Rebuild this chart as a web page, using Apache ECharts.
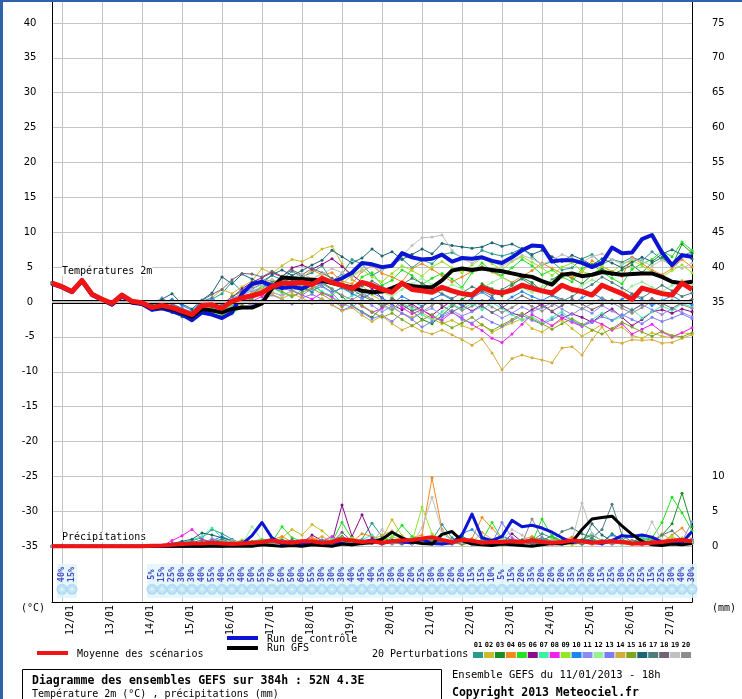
<!DOCTYPE html>
<html>
<head>
<meta charset="utf-8">
<script src="https://cdn.jsdelivr.net/npm/echarts@6/dist/echarts.min.js"></script>
<style>
html, body { margin: 0; padding: 0; background: #fff; }
#main { width: 742px; height: 699px; }
</style>
</head>
<body>
<div id="main"></div>
<script>
// GEFS run 11/01/2013 18h, one step = 6h, 65 steps (0h .. 384h)
var days = ['11/01', '12/01', '13/01', '14/01', '15/01', '16/01', '17/01', '18/01', '19/01',
    '20/01', '21/01', '22/01', '23/01', '24/01', '25/01', '26/01', '27/01'];
var runHours = ['00h', '06h', '12h', '18h'];
var steps = ['11/01 18h'];
days.slice(1).forEach(function (d) {
    runHours.forEach(function (h) { steps.push(d + ' ' + h); });
});

var tempTicks = [-35, -30, -25, -20, -15, -10, -5, 0, 5, 10, 15, 20, 25, 30, 35, 40];
var rightTicks = [0, 5, 10, 35, 40, 45, 50, 55, 60, 65, 70, 75];

// temperature 2m (°C)
var meanTemp = [2.7, 2.2, 1.5, 3.1, 1.1, 0.4, -0.2, 1.0, 0.1, -0.1, -0.8, -0.5, -0.8,
    -1.3, -1.8, -0.5, -0.4, -0.9, 0.1, 0.6, 0.9, 1.3, 2.2, 2.7, 2.7, 2.8,
    2.5, 3.4, 2.8, 2.4, 1.9, 2.8, 2.4, 1.8, 1.4, 2.7, 1.8, 1.6, 1.4,
    2.1, 1.6, 1.2, 1.0, 2.1, 1.5, 1.3, 1.7, 2.4, 2.0, 1.6, 1.3, 2.4,
    1.8, 1.5, 1.0, 2.4, 1.8, 1.2, 0.4, 2.0, 1.6, 1.2, 1.0, 2.7, 1.8];
var controlTemp = [2.6, 2.1, 1.4, 3.0, 1.0, 0.3, -0.4, 0.8, -0.1, -0.3, -1.1, -0.9, -1.3,
    -1.8, -2.6, -1.5, -1.8, -2.3, -1.5, 1.2, 2.6, 2.9, 2.3, 2.0, 2.2, 1.9,
    2.6, 3.0, 2.8, 3.4, 4.2, 5.6, 5.4, 5.0, 5.2, 7.0, 6.4, 6.1, 6.2,
    6.8, 5.8, 6.3, 6.2, 6.4, 5.9, 5.6, 6.4, 7.4, 8.1, 8.0, 5.8, 6.0,
    6.0, 5.6, 5.0, 5.6, 7.8, 7.0, 7.1, 9.0, 9.6, 7.1, 5.3, 6.7, 6.5];
var gfsTemp = [2.7, 2.2, 1.5, 3.1, 1.1, 0.4, -0.3, 1.0, 0.0, -0.2, -0.9, -0.7, -1.0,
    -1.5, -2.1, -1.0, -1.2, -1.5, -1.0, -0.8, -0.8, -0.2, 2.0, 3.5, 3.4, 3.3,
    3.2, 3.1, 2.7, 2.4, 2.1, 1.6, 1.4, 1.5, 2.0, 2.6, 2.3, 2.1, 2.1,
    3.1, 4.5, 4.8, 4.6, 4.8, 4.6, 4.4, 4.1, 3.8, 3.6, 3.0, 2.5, 3.9,
    4.1, 3.7, 3.9, 4.3, 4.1, 3.9, 4.0, 4.1, 4.1, 3.6, 2.9, 2.7, 2.9];

var pertTemp = [
    [2.8, 2.3, 1.6, 3.2, 1.2, 0.5, -0.1, 1.1, 0.2, 0.0,
     -0.6, 0.2, -0.3, -0.9, -1.5, -0.2, 0.4, 1.2, 2.9, 1.5,
     2.4, 3.0, 3.8, 3.2, 4.4, 3.6, 4.2, 5.2, 3.0, 4.0,
     6.1, 5.4, 3.8, 4.6, 5.3, 6.2, 4.9, 6.0, 5.5, 6.8,
     7.1, 6.4, 6.2, 7.4, 6.9, 6.6, 7.0, 7.7, 6.5, 5.3,
     5.8, 4.6, 4.9, 6.2, 6.8, 5.4, 6.1, 5.7, 6.4, 5.9,
     7.2, 6.1, 5.2, 6.6, 7.2],
    [2.6, 2.1, 1.4, 3.0, 1.0, 0.3, -0.3, 0.9, 0.0, -0.2,
     -0.9, -0.7, -1.1, -1.6, -2.0, -0.3, 0.6, 1.8, 1.2, 2.2,
     3.0, 4.8, 4.1, 5.2, 6.1, 5.8, 6.5, 7.6, 8.0, 5.5,
     3.2, 2.4, 1.0, 0.2, -0.8, -1.6, -2.2, -1.5, -2.4, -3.1,
     -2.6, -3.4, -3.9, -3.2, -4.4, -3.6, -3.0, -2.4, -3.8, -4.3,
     -3.4, -2.6, -3.8, -4.9, -4.1, -3.2, -4.0, -3.6, -4.8, -5.2,
     -4.4, -4.9, -5.1, -4.4, -4.6],
    [2.7, 2.2, 1.5, 3.1, 1.1, 0.4, -0.2, 0.9, 0.0, -0.3,
     -1.2, -1.0, -1.5, -2.1, -2.6, -1.5, -1.8, -2.0, -0.8, 0.5,
     1.2, 2.1, 3.0, 2.6, 3.5, 2.1, 1.4, 2.8, 1.9, 0.8,
     -0.5, -1.4, -2.2, -0.8, 0.6, -0.4, -1.3, -2.5, -3.1, -1.9,
     -0.6, 0.4, 1.2, 2.6, 1.9, 0.9, 2.4, 3.5, 2.8, 1.6,
     3.2, 4.1, 3.4, 2.6, 3.9, 4.8, 3.9, 4.6, 5.3, 4.2,
     5.6, 6.4, 5.2, 8.3, 7.0],
    [2.8, 2.3, 1.6, 3.1, 1.2, 0.5, -0.1, 1.0, 0.2, 0.0,
     -0.5, -0.3, -0.6, -1.0, -1.4, -0.1, -0.2, -0.6, 0.8, 1.4,
     2.2, 2.8, 3.2, 2.7, 2.2, 3.4, 4.6, 3.9, 4.2, 3.0,
     2.6, 4.4, 5.2, 4.1, 3.6, 2.9, 4.8, 5.5, 4.7, 3.8,
     2.9, 3.6, 4.4, 5.1, 4.3, 3.6, 2.8, 3.7, 4.5, 5.6,
     4.8, 4.1, 3.5, 4.3, 5.9, 5.1, 4.4, 3.7, 6.4, 5.5,
     4.6, 3.9, 4.8, 6.1, 5.0],
    [2.6, 2.1, 1.4, 3.0, 1.0, 0.3, -0.3, 0.9, 0.0, -0.2,
     -1.0, -0.9, -1.2, -1.8, -2.3, -1.2, -1.5, -1.6, -0.3, 0.9,
     0.4, 1.6, 2.5, 3.1, 2.2, 1.7, 2.6, 1.4, 0.9, 2.3,
     1.5, 3.6, 4.2, 2.4, 3.1, 4.6, 3.8, 2.5, 3.4, 4.1,
     3.3, 2.1, 4.2, 5.6, 4.4, 3.8, 4.9, 6.1, 5.2, 3.9,
     4.6, 3.6, 2.9, 4.8, 5.4, 4.3, 3.4, 2.6, 4.7, 5.5,
     6.1, 7.3, 6.5, 8.6, 7.4],
    [2.7, 2.2, 1.5, 3.1, 1.1, 0.4, -0.2, 1.0, 0.1, -0.1,
     -0.7, -0.4, -0.7, -1.2, -1.7, -0.6, -0.3, -0.8, 0.6, 1.9,
     2.8, 3.5, 4.2, 3.6, 4.9, 5.3, 4.7, 5.4, 6.2, 5.1,
     3.9, 2.8, 1.9, 0.6, -0.4, -1.1, -0.3, -1.2, -1.9, -0.8,
     0.2, -0.5, -1.3, -0.4, 0.6, -0.7, -1.6, -2.0, -1.1, -0.3,
     -1.4, -2.3, -1.7, -2.2, -2.9, -1.8, -1.0, -2.2, -3.4, -2.5,
     -1.4, -1.1, -1.6, -1.0, -1.4],
    [2.7, 2.2, 1.5, 3.0, 1.1, 0.4, -0.2, 1.0, 0.1, -0.2,
     -0.9, -0.6, -1.0, -1.5, -2.0, -0.9, -0.8, -1.3, -0.5, 0.3,
     0.8, 1.4, 2.0, 1.3, 0.7, 1.8, 2.6, 1.5, 0.6, 0.1,
     0.9, 1.5, 0.3, -0.6, -1.2, -0.2, -0.9, -1.8, -2.6, -1.4,
     -0.3, -1.0, -0.2, -1.1, -0.1, -0.9, -1.8, -2.6, -2.1, -3.0,
     -2.2, -1.4, -2.6, -3.3, -2.5, -1.6, -2.7, -2.1, -1.0, -2.3,
     -1.4, -0.6, -1.2, -0.2, -0.7],
    [2.8, 2.2, 1.5, 3.1, 1.1, 0.4, -0.2, 1.0, 0.1, -0.1,
     -0.7, -0.5, -0.6, -1.3, -1.9, -0.7, -0.6, -1.0, 0.2, 0.5,
     0.1, 0.8, 1.4, 0.9, 1.6, 1.0, 0.4, 1.3, 0.7, -0.5,
     0.4, -0.6, -1.5, -0.9, 0.3, -0.8, -1.7, -1.1, -2.1, -2.6,
     -1.5, -2.3, -3.2, -4.1, -5.2, -5.8, -4.6, -3.2, -1.8, -2.6,
     -3.4, -2.3, -2.9, -3.5, -2.6, -3.2, -4.0, -3.1, -4.6, -3.9,
     -3.2, -4.3, -5.0, -4.4, -3.7],
    [2.6, 2.1, 1.4, 3.1, 1.0, 0.3, -0.3, 0.9, 0.0, -0.2,
     -1.1, -0.8, -1.3, -1.7, -2.2, -1.1, -1.2, -2.0, -0.9, 0.2,
     1.4, 2.3, 1.6, 2.9, 3.6, 2.8, 3.3, 4.1, 3.4, 2.6,
     3.8, 4.7, 3.6, 2.9, 4.1, 5.2, 4.5, 3.7, 5.0, 5.8,
     4.9, 4.2, 5.3, 6.3, 5.5, 4.6, 5.8, 6.5, 5.7, 4.9,
     3.8, 5.0, 5.6, 4.4, 3.9, 5.1, 4.3, 5.4, 6.0, 5.2,
     4.3, 3.6, 4.5, 5.3, 4.2],
    [2.7, 2.2, 1.5, 3.1, 1.1, 0.4, -0.2, 1.0, 0.1, -0.1,
     -0.6, -0.2, 0.4, -0.5, -1.2, 0.1, 0.6, -0.5, 0.4, 1.2,
     1.9, 2.6, 1.8, 2.4, 3.0, 2.2, 1.6, 2.3, 1.4, 2.0,
     1.2, 0.5, 1.3, 0.6, -0.3, 0.8, 0.1, -0.6, 0.4, 1.1,
     0.3, -0.4, 0.6, 1.4, 0.5, -0.2, 0.7, 1.5, 0.8, 0.2,
     1.0, 0.4, -0.3, 0.6, 1.3, 0.5, -0.2, 0.4, 1.1, 0.3,
     -0.5, 0.2, 0.9, 0.1, -0.4],
    [2.7, 2.2, 1.5, 3.1, 1.1, 0.4, -0.2, 1.0, 0.1, 0.0,
     -0.3, 0.6, -0.4, -0.9, -1.5, -0.4, 0.2, -0.3, 0.6, 1.0,
     1.6, 2.0, 2.7, 2.1, 1.5, 2.4, 3.0, 2.2, 1.3, -0.2,
     -0.8, 0.4, -0.5, -1.4, -0.6, -1.6, -2.4, -1.5, -0.9, -1.9,
     -1.2, -2.0, -1.4, -0.6, -1.5, -2.3, -1.6, -0.7, -1.4, -0.8,
     -0.1, -1.0, -1.8, -0.9, -1.6, -0.5, -1.3, -2.0, -1.2, -0.4,
     -1.1, -1.8, -0.9, -1.5, -2.1],
    [2.7, 2.2, 1.5, 3.1, 1.1, 0.4, -0.2, 1.0, 0.1, -0.1,
     -0.8, -0.6, -1.0, -1.5, -1.8, -0.8, -0.9, -1.4, -1.8, -0.6,
     0.9, 2.0, 1.5, 0.8, 1.6, 2.4, 1.8, 2.6, 3.2, 2.4,
     1.6, 2.9, 2.2, 1.4, 0.8, 1.8, 2.6, 3.4, 2.5, 1.7,
     2.5, 1.9, 1.2, 2.0, 2.8, 3.5, 2.7, 2.0, 1.4, 2.2,
     3.0, 2.3, 1.5, 2.4, 3.2, 2.6, 1.8, 1.1, 2.3, 2.9,
     2.1, 1.5, 2.4, 3.1, 2.5],
    [2.7, 2.2, 1.5, 3.1, 1.1, 0.4, -0.2, 1.0, 0.1, -0.1,
     -0.8, -0.4, -0.9, -1.4, -1.9, -0.7, -0.5, -1.0, -0.3, 0.1,
     -0.5, 0.3, 1.0, 0.4, -0.3, 0.6, 1.1, 0.4, -0.4, -1.2,
     -0.6, -1.5, -2.4, -1.9, -2.8, -1.6, -2.5, -3.6, -2.8, -2.2,
     -1.4, -2.5, -3.0, -2.1, -2.9, -3.5, -2.7, -1.9, -2.6, -3.2,
     -2.5, -1.8, -2.7, -3.4, -2.9, -2.1, -2.6, -1.8, -2.5, -3.1,
     -2.2, -2.8, -2.3, -1.7, -2.4],
    [2.7, 2.2, 1.5, 3.1, 1.1, 0.4, -0.2, 1.0, 0.1, -0.1,
     -0.8, -0.5, -0.9, -1.3, -1.9, -0.6, -0.6, -1.1, -0.2, 0.6,
     1.2, 1.8, 1.1, 0.5, 1.2, 0.6, -0.2, 0.5, -0.4, -1.3,
     -0.8, -1.9, -2.8, -2.0, -3.1, -4.0, -3.4, -4.2, -4.6, -4.0,
     -4.7, -5.4, -6.2, -5.3, -7.3, -9.7, -8.1, -7.6, -8.0, -8.3,
     -8.7, -6.6, -6.4, -7.6, -5.4, -3.6, -5.7, -5.9, -5.4, -5.5,
     -5.4, -5.9, -5.8, -5.2, -4.7],
    [2.6, 2.1, 1.4, 3.0, 1.0, 0.3, -0.3, 0.9, 0.0, -0.2,
     -1.0, -0.8, -1.2, -1.7, -2.4, -1.3, -1.6, -2.2, -1.5, -0.4,
     0.6, 1.3, 2.0, 1.5, 0.8, 1.4, 2.0, 1.1, 0.2, -0.7,
     0.2, -0.5, -1.4, -2.2, -1.6, -2.5, -3.4, -2.6, -1.8, -2.9,
     -3.7, -3.0, -2.2, -3.3, -4.1, -3.3, -2.5, -1.6, -2.4, -3.1,
     -3.9, -3.1, -2.4, -3.2, -4.0, -4.6, -3.8, -2.9, -3.6, -4.3,
     -4.9, -4.2, -4.8, -5.0, -4.4],
    [2.8, 2.3, 1.6, 3.2, 1.2, 0.5, -0.1, 1.1, 0.2, 0.1,
     -0.4, 0.4, 1.2, -0.3, -1.0, 0.3, 1.3, 3.6, 2.6, 4.0,
     3.3, 2.6, 3.9, 4.6, 3.8, 4.5, 5.3, 6.0, 7.4, 6.5,
     5.6, 6.3, 7.6, 6.6, 7.2, 6.1, 6.8, 7.6, 6.9, 8.4,
     8.1, 7.9, 7.7, 7.9, 8.5, 8.0, 8.3, 7.6, 6.8, 7.4,
     6.5, 5.8, 6.7, 6.1, 5.3, 6.2, 5.6, 4.9, 5.7, 6.4,
     5.8, 6.9, 7.5, 6.8, 6.2],
    [2.7, 2.2, 1.5, 3.1, 1.1, 0.4, -0.2, 1.0, 0.1, -0.1,
     -0.6, -0.3, -0.8, -1.4, -1.8, -0.5, -0.7, -0.4, 0.8, 1.6,
     2.4, 3.1, 2.6, 3.3, 2.7, 2.0, 2.8, 3.5, 2.9, 2.1,
     1.4, 2.3, 3.0, 2.2, 1.5, 2.5, 3.4, 2.7, 1.9, 1.2,
     0.5, 1.3, 2.2, 1.6, 0.9, 1.8, 2.6, 3.3, 2.4, 1.7,
     0.9, 0.1, 0.8, 1.7, 2.5, 3.6, 2.8, 2.0, 1.2, 0.6,
     1.5, 2.4, 1.6, 0.8, 1.3],
    [2.7, 2.2, 1.5, 3.1, 1.1, 0.4, -0.2, 1.0, 0.1, -0.1,
     -0.7, -0.4, -0.2, -1.0, -1.6, 0.2, 1.1, 1.8, 3.2, 4.1,
     4.0, 3.6, 4.4, 3.7, 4.6, 3.9, 4.8, 4.2, 3.4, 2.5,
     1.8, 0.9, 0.2, -0.6, 0.5, -0.4, -1.3, -0.7, 0.3, -0.5,
     -1.4, -0.7, 0.2, -0.6, -1.5, -0.8, 0.1, 0.9, 0.2, -0.6,
     -1.3, -0.5, 0.4, -0.3, -1.1, -0.4, 0.3, -0.5, -1.2, -0.3,
     0.5, -0.2, -0.9, -0.1, 0.4],
    [2.7, 2.2, 1.5, 3.1, 1.1, 0.4, -0.2, 1.0, 0.1, -0.1,
     -0.7, -0.5, -0.8, -1.2, -1.7, -0.4, -0.2, -0.7, 0.4, 1.1,
     1.8, 2.5, 3.2, 2.5, 3.4, 4.1, 3.3, 4.0, 4.8, 4.2,
     3.6, 4.5, 5.1, 4.6, 5.5, 6.6, 8.1, 9.2, 9.3, 9.6,
     7.4, 6.2, 5.6, 6.4, 5.8, 5.1, 5.9, 6.7, 6.2, 5.4,
     6.0, 6.8, 6.3, 5.7, 6.5, 6.9, 6.1, 5.4, 6.2, 5.8,
     5.2, 6.0, 5.5, 4.8, 5.6],
    [2.7, 2.2, 1.5, 3.1, 1.1, 0.4, -0.2, 1.0, 0.1, -0.1,
     -0.9, -0.7, -1.1, -1.6, -2.1, -1.0, -1.3, -1.5, -0.9, -0.2,
     0.5, 1.2, 1.8, 2.4, 1.7, 1.0, 1.9, 2.6, 1.8, 1.0,
     0.3, 1.2, 0.4, -0.3, -1.1, 0.2, -0.6, -1.4, -0.5, 0.3,
     -0.4, -1.2, -0.6, 0.2, -0.7, -1.5, -0.8, 0.1, -0.6, -1.3,
     -0.5, 0.4, -0.3, -1.0, -0.2, 0.6, -0.1, -0.9, -1.6, -0.8,
     0.1, -0.6, 0.3, -0.4, -0.9]
];

// precipitation (mm / 6h)
var meanPrecip = [0, 0, 0, 0, 0, 0, 0, 0, 0, 0, 0.05, 0.1, 0.2,
    0.3, 0.4, 0.4, 0.5, 0.4, 0.3, 0.4, 0.5, 0.6, 0.8, 0.6, 0.5, 0.7,
    0.7, 0.5, 0.6, 1.0, 0.8, 0.6, 0.7, 0.5, 0.7, 0.8, 0.9, 1.1, 1.3,
    0.9, 0.6, 0.9, 0.8, 0.5, 0.6, 0.6, 0.7, 0.6, 0.8, 0.6, 0.5, 0.6,
    0.8, 0.7, 0.5, 0.6, 0.7, 0.6, 0.4, 0.4, 0.5, 0.6, 0.8, 0.9, 0.7];
var controlPrecip = [0, 0, 0, 0, 0, 0, 0, 0, 0, 0, 0, 0, 0,
    0, 0, 0, 0.1, 0, 0.2, 0.3, 1.5, 3.4, 1.2, 0.3, 0.2, 0.4,
    0.3, 0.2, 0.5, 0.4, 0.2, 0.6, 0.9, 0.4, 0.8, 0.6, 0.5, 1.0, 0.4,
    0.3, 0.5, 1.6, 4.6, 1.2, 0.8, 1.4, 3.7, 2.8, 3.0, 2.6, 2.0, 1.2,
    0.5, 0.8, 0.6, 0.4, 0.8, 1.5, 1.4, 1.6, 1.3, 0.6, 0.3, 0.5, 2.1];
var gfsPrecip = [0, 0, 0, 0, 0, 0, 0, 0, 0, 0, 0, 0, 0,
    0, 0, 0, 0, 0, 0, 0, 0, 0.2, 0.1, 0, 0.1, 0,
    0.2, 0.1, 0, 0.3, 0.2, 0.4, 0.5, 1.0, 2.0, 1.2, 0.6, 0.4, 0.3,
    1.7, 2.1, 0.8, 0.3, 0.2, 0.1, 0.3, 0.2, 0.1, 0, 0.2, 0.4, 0.3,
    0.6, 2.4, 3.9, 4.1, 4.3, 2.9, 1.7, 0.7, 0.2, 0.1, 0.3, 0.2, 0.4];

var pertPrecip = [
    [0, 0, 0, 0, 0, 0, 0, 0, 0, 0, 0, 0, 0.3,
     0.5, 0.8, 1.2, 2.4, 1.8, 1.0, 0.3, 0.2, 0.5, 0.9, 0.4, 0.2, 0.6,
     0.3, 0.8, 0.4, 1.2, 0.6, 1.0, 3.3, 1.4, 0.6, 0.4, 0.8, 0.5, 0.9,
     3.1, 1.2, 0.5, 0.8, 0.3, 0.6, 1.4, 0.9, 0.5, 0.7, 1.8, 1.2, 0.6,
     0.4, 0.9, 1.6, 0.8, 0.5, 0.3, 0.7, 1.1, 0.6, 0.4, 0.9, 0.5, 0.7],
    [0, 0, 0, 0, 0, 0, 0, 0, 0, 0, 0, 0, 0,
     0, 0.2, 0.5, 0.3, 0.6, 0.4, 0.9, 0.7, 0.3, 0.5, 1.2, 2.4, 1.6,
     3.1, 2.2, 1.0, 0.6, 0.4, 0.8, 0.5, 1.1, 3.8, 1.5, 0.6, 0.8, 0.4,
     0.3, 0.6, 0.2, 0.5, 0.3, 0.2, 0.1, 0.4, 0.6, 0.3, 0.5, 0.8, 0.4,
     0.2, 0.5, 0.3, 0.6, 0.9, 0.4, 0.2, 0.6, 0.3, 0.5, 0.8, 1.2, 0.6],
    [0, 0, 0, 0, 0, 0, 0, 0, 0, 0, 0, 0, 0,
     0.2, 0.4, 0.3, 0.8, 0.5, 0.3, 0.6, 0.4, 0.8, 1.1, 0.6, 0.4, 0.7,
     0.5, 0.3, 0.9, 1.4, 0.7, 0.5, 0.8, 1.2, 0.6, 0.9, 0.5, 0.7, 1.0,
     0.6, 0.4, 0.8, 0.5, 0.3, 0.6, 0.9, 0.7, 0.4, 1.2, 0.8, 1.5, 0.6,
     0.4, 0.7, 1.1, 0.5, 1.8, 0.9, 0.6, 1.2, 0.8, 1.6, 3.2, 7.6, 2.8],
    [0, 0, 0, 0, 0, 0, 0, 0, 0, 0, 0, 0, 0,
     0, 0.1, 0.3, 0.5, 0.4, 0.8, 0.6, 0.3, 0.5, 0.9, 1.4, 0.6, 0.8,
     1.2, 0.7, 0.5, 0.9, 0.6, 1.8, 1.4, 0.8, 0.5, 0.7, 1.2, 1.6, 9.8,
     2.4, 0.8, 0.5, 1.1, 4.1, 2.6, 1.0, 0.6, 0.9, 1.4, 0.7, 0.5, 0.8,
     1.3, 0.6, 0.4, 0.7, 0.5, 0.9, 0.6, 0.3, 0.8, 0.5, 1.6, 2.6, 0.9],
    [0, 0, 0, 0, 0, 0, 0, 0, 0, 0, 0, 0, 0,
     0.1, 0.3, 0.2, 0.5, 0.8, 0.6, 0.4, 0.7, 1.0, 0.6, 2.8, 1.2, 0.7,
     0.5, 0.9, 0.6, 3.4, 1.1, 0.7, 0.9, 0.5, 1.2, 3.0, 1.4, 0.8, 0.6,
     0.9, 0.7, 1.2, 0.6, 0.8, 3.4, 1.0, 0.6, 0.9, 0.5, 3.9, 1.4, 0.8,
     0.6, 1.0, 1.8, 0.7, 0.5, 0.9, 1.6, 0.9, 1.2, 3.4, 7.0, 4.8, 2.2],
    [0, 0, 0, 0, 0, 0, 0, 0, 0, 0, 0, 0, 0,
     0, 0.2, 0.4, 0.3, 0.5, 0.2, 0.6, 0.4, 0.3, 0.7, 0.5, 0.9, 0.4,
     1.6, 0.8, 0.6, 5.9, 1.4, 4.5, 1.2, 0.7, 0.5, 0.8, 0.4, 0.6, 0.9,
     0.5, 0.3, 0.6, 0.4, 0.8, 0.5, 0.3, 1.8, 0.6, 0.4, 0.7, 0.3, 0.5,
     0.8, 0.4, 0.6, 0.3, 0.5, 0.7, 0.4, 0.2, 0.5, 0.3, 0.6, 0.4, 0.5],
    [0, 0, 0, 0, 0, 0, 0, 0, 0, 0, 0, 0, 0,
     0.4, 0.9, 1.4, 2.6, 1.2, 0.8, 0.5, 0.3, 0.6, 0.4, 1.0, 0.5, 0.7,
     0.4, 0.6, 1.2, 0.8, 0.5, 0.9, 1.6, 0.7, 0.5, 0.8, 1.1, 0.6, 0.4,
     1.8, 0.9, 0.5, 0.7, 0.4, 0.6, 0.9, 0.5, 0.3, 0.8, 0.6, 0.4, 0.7,
     0.5, 0.3, 0.6, 0.9, 0.5, 0.7, 0.4, 1.2, 0.6, 0.8, 0.5, 0.3, 0.6],
    [0, 0, 0, 0, 0, 0, 0, 0, 0, 0, 0, 0, 0.8,
     1.5, 2.4, 1.0, 0.6, 0.4, 0.3, 0.2, 0.5, 0.3, 0.6, 0.4, 0.2, 0.5,
     0.3, 0.7, 1.4, 0.6, 0.4, 0.8, 0.5, 0.3, 0.6, 0.4, 0.7, 0.5, 0.3,
     0.6, 0.4, 0.8, 0.5, 0.3, 0.4, 0.6, 0.3, 0.5, 0.8, 0.4, 0.6, 0.3,
     0.5, 0.7, 0.4, 0.3, 0.6, 0.4, 0.8, 0.5, 0.3, 0.6, 0.4, 0.7, 0.5],
    [0, 0, 0, 0, 0, 0, 0, 0, 0, 0, 0, 0, 0,
     0, 0.2, 0.4, 0.3, 0.6, 0.4, 0.8, 0.5, 0.3, 0.6, 0.9, 0.5, 0.7,
     0.4, 0.8, 0.6, 0.9, 1.2, 0.7, 0.5, 0.8, 1.4, 0.9, 0.6, 5.6, 1.8,
     0.8, 0.5, 0.7, 0.4, 0.6, 0.9, 0.5, 0.7, 0.4, 0.8, 0.6, 1.0, 0.7,
     0.4, 0.6, 0.9, 0.5, 0.7, 0.4, 0.6, 0.8, 0.5, 0.7, 1.4, 0.6, 0.4],
    [0, 0, 0, 0, 0, 0, 0, 0, 0, 0, 0, 0, 0,
     0.3, 0.6, 0.4, 0.8, 1.4, 0.7, 0.5, 0.3, 0.6, 0.4, 0.8, 0.5, 0.3,
     0.6, 0.9, 0.5, 0.7, 0.4, 0.8, 0.6, 0.5, 0.9, 0.6, 0.4, 0.7, 0.5,
     0.8, 0.6, 1.8, 2.4, 0.9, 0.6, 1.4, 0.8, 0.5, 0.7, 0.9, 0.6, 0.4,
     0.7, 0.5, 0.8, 0.6, 1.6, 0.9, 0.5, 0.7, 0.4, 0.6, 0.8, 0.5, 1.0],
    [0, 0, 0, 0, 0, 0, 0, 0, 0, 0, 0, 0, 0,
     0.2, 0.5, 0.3, 1.1, 0.7, 0.4, 0.6, 0.3, 0.5, 0.7, 0.4, 0.6, 0.3,
     0.5, 0.8, 0.4, 0.6, 0.3, 0.7, 0.5, 0.4, 0.8, 0.5, 0.3, 0.6, 0.4,
     0.7, 0.5, 0.3, 0.6, 0.8, 0.4, 0.6, 0.3, 0.5, 0.7, 0.4, 0.6, 0.3,
     0.5, 0.8, 0.4, 0.6, 0.3, 0.5, 0.7, 0.4, 0.6, 0.3, 0.5, 0.7, 3.5],
    [0, 0, 0, 0, 0, 0, 0, 0, 0, 0, 0, 0, 0,
     0.1, 0.3, 0.6, 0.4, 0.8, 0.5, 0.3, 2.8, 0.9, 0.5, 0.7, 0.4, 0.6,
     0.3, 0.5, 0.8, 1.2, 0.6, 0.4, 0.7, 0.5, 0.9, 0.6, 0.8, 1.2, 0.7,
     0.5, 0.8, 0.6, 0.4, 0.7, 0.5, 0.9, 0.6, 0.4, 0.7, 0.5, 0.8, 0.6,
     0.4, 0.7, 0.5, 0.8, 0.6, 0.4, 0.7, 0.5, 0.6, 0.9, 0.5, 0.7, 0.4],
    [0, 0, 0, 0, 0, 0, 0, 0, 0, 0, 0, 0, 0,
     0.2, 0.4, 0.6, 0.3, 0.5, 0.7, 0.4, 0.3, 0.5, 0.6, 0.4, 0.8, 0.5,
     0.3, 0.6, 0.4, 0.8, 0.5, 0.3, 0.7, 0.4, 0.6, 0.5, 0.3, 0.7, 0.4,
     0.6, 0.8, 0.5, 0.3, 0.6, 0.4, 3.4, 1.2, 0.5, 0.7, 0.4, 0.6, 0.3,
     0.5, 0.7, 0.4, 0.6, 0.3, 0.5, 0.8, 0.4, 0.6, 0.3, 0.5, 0.4, 0.6],
    [0, 0, 0, 0, 0, 0, 0, 0, 0, 0, 0, 0, 0,
     0, 0.1, 0.3, 0.2, 0.4, 0.6, 0.3, 0.5, 0.8, 0.4, 0.6, 0.3, 0.5,
     0.8, 1.4, 0.6, 0.4, 0.7, 0.5, 0.9, 1.6, 2.2, 0.8, 0.5, 0.7, 1.2,
     0.6, 0.4, 0.8, 0.5, 2.0, 1.0, 0.6, 0.4, 0.7, 0.5, 0.3, 0.6, 0.4,
     0.8, 0.5, 0.3, 0.6, 0.4, 0.7, 0.5, 0.3, 0.6, 1.8, 0.8, 0.5, 0.7],
    [0, 0, 0, 0, 0, 0, 0, 0, 0, 0, 0, 0, 0,
     0.1, 0.2, 0.4, 0.3, 0.5, 0.7, 0.4, 0.6, 0.3, 0.5, 0.8, 0.4, 0.6,
     0.5, 0.3, 0.7, 0.4, 0.6, 0.8, 0.5, 0.3, 0.6, 0.4, 0.7, 0.5, 0.9,
     0.4, 0.6, 0.3, 0.5, 0.8, 0.4, 0.6, 0.3, 0.5, 0.7, 0.4, 0.6, 0.8,
     0.5, 0.3, 0.7, 0.4, 0.6, 0.5, 0.8, 0.4, 0.6, 0.3, 0.5, 0.7, 0.4],
    [0, 0, 0, 0, 0, 0, 0, 0, 0, 0, 0, 0, 0.4,
     0.7, 1.0, 1.9, 1.6, 1.2, 0.8, 0.5, 0.3, 0.6, 0.4, 0.8, 0.5, 0.3,
     0.6, 0.4, 0.8, 0.5, 0.9, 0.6, 0.4, 0.7, 0.5, 0.3, 0.8, 0.6, 0.4,
     0.9, 0.6, 1.4, 0.7, 0.5, 0.8, 0.4, 0.6, 0.9, 0.5, 0.7, 0.4, 0.6,
     0.8, 0.5, 3.2, 1.6, 0.7, 0.9, 0.5, 0.7, 0.4, 0.6, 0.8, 0.5, 0.7],
    [0, 0, 0, 0, 0, 0, 0, 0, 0, 0, 0, 0, 0,
     0.2, 0.5, 0.9, 0.6, 1.0, 0.5, 0.3, 0.6, 0.4, 0.7, 0.5, 0.3, 0.6,
     0.4, 0.7, 0.5, 0.9, 0.6, 0.4, 0.8, 0.5, 0.7, 0.4, 0.6, 0.9, 0.5,
     0.7, 0.4, 0.6, 0.8, 0.5, 0.7, 0.4, 0.9, 0.6, 0.8, 1.2, 0.7, 2.1,
     2.6, 1.8, 1.2, 2.4, 6.0, 1.6, 0.6, 0.8, 0.5, 1.6, 2.2, 0.9, 0.6],
    [0, 0, 0, 0, 0, 0, 0, 0, 0, 0, 0, 0, 0,
     0.3, 0.6, 0.4, 0.8, 0.5, 0.3, 0.7, 0.4, 0.6, 0.3, 0.5, 0.8, 0.4,
     0.6, 0.3, 0.5, 2.0, 0.7, 0.4, 0.6, 0.3, 0.5, 0.8, 0.4, 0.6, 0.3,
     0.5, 0.7, 0.4, 0.6, 0.3, 0.5, 0.8, 0.4, 0.6, 0.3, 0.5, 0.7, 0.4,
     0.6, 0.3, 0.5, 0.8, 0.4, 0.6, 0.3, 0.5, 0.7, 0.4, 0.6, 0.3, 0.5],
    [0, 0, 0, 0, 0, 0, 0, 0, 0, 0, 0, 0, 0,
     0.2, 0.4, 0.3, 0.6, 0.4, 0.8, 0.5, 0.3, 0.6, 0.4, 0.7, 0.5, 0.3,
     0.6, 0.4, 0.8, 0.5, 0.3, 0.7, 0.5, 2.4, 0.8, 0.6, 0.4, 2.6, 7.0,
     2.2, 0.8, 0.5, 0.7, 0.4, 0.6, 0.9, 2.4, 1.6, 0.7, 0.5, 0.8, 0.6,
     0.9, 6.2, 1.8, 0.7, 0.5, 0.8, 0.6, 0.4, 3.5, 0.7, 0.5, 0.8, 0.6],
    [0, 0, 0, 0, 0, 0, 0, 0, 0, 0, 0, 0, 0,
     0.2, 0.5, 0.3, 0.7, 0.4, 0.6, 0.3, 0.5, 0.8, 0.4, 0.6, 0.3, 0.5,
     0.7, 0.4, 0.6, 0.3, 0.5, 0.8, 0.4, 0.6, 0.3, 0.5, 0.7, 0.4, 0.6,
     0.3, 0.5, 0.7, 0.4, 0.6, 0.3, 0.5, 0.8, 0.4, 3.9, 1.2, 0.6, 0.4,
     0.7, 0.5, 0.3, 0.6, 0.4, 0.7, 0.5, 0.3, 0.6, 0.4, 0.7, 0.5, 0.9]
];

// snow probability (%) per step, null = none
var snowPct = [null, 40, 15, null, null, null, null, null, null, null,
    5, 15, 25, 30, 30, 40, 55, 40, 35, 40,
    50, 55, 70, 50, 50, 60, 55, 30, 30, 30,
    40, 45, 40, 35, 30, 20, 20, 25, 30, 30,
    20, 20, 15, 15, 10, 5, 15, 20, 35, 20,
    20, 20, 35, 35, 20, 15, 25, 30, 25, 25,
    15, 25, 30, 40, 30];

var pertColors = ['#2a9a8c', '#c8bc2c', '#1c8c28', '#f08a1e', '#22e022', '#8c0a8c', '#3cf0a4',
    '#f020f0', '#94e628', '#1e84f0', '#8c8cf0', '#94f094', '#7c7cf4', '#d4ac3c', '#80a41c',
    '#1a6474', '#4c7c7c', '#706474', '#c0c0c0', '#8c8c8c'];

[meanTemp, controlTemp, gfsTemp, meanPrecip, controlPrecip, gfsPrecip, snowPct]
    .concat(pertTemp, pertPrecip).forEach(function (a, k) {
        if (a.length !== steps.length) throw new Error('bad length ' + k + ': ' + a.length);
    });

var monoFont = '"DejaVu Sans Mono", "Liberation Mono", monospace';
var isMidnight = function (idx, value) { return value.slice(-3) === '00h'; };

var series = [];
// zero line (double black)
series.push({
    type: 'line', data: [], xAxisIndex: 0, yAxisIndex: 0, z: 2, silent: true,
    markLine: {
        silent: true, symbol: 'none', animation: false, label: {show: false},
        data: [{yAxis: 0, lineStyle: {color: '#000', width: 4, type: 'solid'}}]
    }
});
series.push({
    type: 'line', data: [], xAxisIndex: 0, yAxisIndex: 0, z: 2, silent: true,
    markLine: {
        silent: true, symbol: 'none', animation: false, label: {show: false},
        data: [{yAxis: 0, lineStyle: {color: '#fff', width: 1.5, type: 'solid'}}]
    }
});

pertTemp.forEach(function (d, k) {
    series.push({
        type: 'line', name: 'T' + (k + 1), data: d, xAxisIndex: 0, yAxisIndex: 0,
        symbol: 'circle', symbolSize: 3, showAllSymbol: true, z: 3, silent: true,
        lineStyle: {width: 1, color: pertColors[k]}, itemStyle: {color: pertColors[k]}
    });
});
pertPrecip.forEach(function (d, k) {
    series.push({
        type: 'line', name: 'P' + (k + 1), data: d, xAxisIndex: 0, yAxisIndex: 1,
        symbol: 'circle', symbolSize: 3, showAllSymbol: true, z: 3, silent: true,
        lineStyle: {width: 1, color: pertColors[k]}, itemStyle: {color: pertColors[k]}
    });
});

function mainLine(data, yIdx, color, width, z) {
    return {
        type: 'line', data: data, xAxisIndex: 0, yAxisIndex: yIdx, symbol: 'none', z: z,
        silent: true, lineStyle: {width: width, color: color, join: 'round'}
    };
}
series.push(mainLine(controlTemp, 0, '#0a14d2', 4, 4));
series.push(mainLine(gfsTemp, 0, '#000', 4, 4));
series.push(mainLine(controlPrecip, 1, '#0a14d2', 3, 4));
series.push(mainLine(gfsPrecip, 1, '#000', 3, 4));
series.push(mainLine(meanTemp, 0, '#f01414', 5, 5));
series.push(mainLine(meanPrecip, 1, '#f01414', 4, 5));

// snow strip
series.push({
    type: 'scatter', xAxisIndex: 1, yAxisIndex: 2, silent: true, z: 2,
    symbol: 'rect', symbolSize: [10, 34],
    itemStyle: {color: '#e0f4fc'},
    data: snowPct.map(function (p) { return p == null ? '-' : 0.5; })
});
series.push({
    type: 'scatter', xAxisIndex: 1, yAxisIndex: 2, silent: true, z: 3,
    symbol: 'circle', symbolSize: 11,
    itemStyle: {color: '#a2d6f0'},
    data: snowPct.map(function (p) { return p == null ? '-' : 0.27; })
});
series.push({
    type: 'scatter', xAxisIndex: 1, yAxisIndex: 2, silent: true, z: 4,
    symbol: 'path://M5 0 L5 10 M0 5 L10 5 M1.5 1.5 L8.5 8.5 M8.5 1.5 L1.5 8.5', symbolSize: 8,
    itemStyle: {color: 'none', borderColor: '#e6f6fd', borderWidth: 1},
    data: snowPct.map(function (p) { return p == null ? '-' : 0.27; })
});
series.push({
    type: 'scatter', xAxisIndex: 1, yAxisIndex: 2, silent: true, z: 5,
    symbolSize: 1, itemStyle: {color: 'transparent'},
    label: {
        show: true, position: 'inside', rotate: 90,
        fontFamily: monoFont, fontSize: 8.5, fontWeight: 'bold', color: '#1c1cb4',
        formatter: function (p) { return snowPct[p.dataIndex] + '%'; }
    },
    data: snowPct.map(function (p) { return p == null ? '-' : 0.68; })
});

// legend / captions
function txt(x, y, s, font, extra) {
    var st = {text: s, x: 0, y: 0, font: font || '10px ' + monoFont, fill: '#000', verticalAlign: 'middle'};
    if (extra) Object.keys(extra).forEach(function (key) { st[key] = extra[key]; });
    return {type: 'text', x: x, y: y, style: st, z: 50};
}
var graphics = [
    {type: 'rect', shape: {x: 0, y: 0, width: 742, height: 2}, style: {fill: '#2e63a9'}, z: 100},
    {type: 'rect', shape: {x: 0, y: 0, width: 3, height: 699}, style: {fill: '#2e63a9'}, z: 100},
    txt(62, 271, 'Températures 2m', null, {backgroundColor: '#fff'}),
    txt(62, 537, 'Précipitations', null, {backgroundColor: '#fff'}),
    txt(21, 608, '(°C)'),
    txt(712, 608, '(mm)'),
    {type: 'line', shape: {x1: 37, y1: 653, x2: 68, y2: 653}, style: {stroke: '#f01414', lineWidth: 4}, z: 50},
    txt(77, 654, 'Moyenne des scénarios'),
    {type: 'line', shape: {x1: 227, y1: 638, x2: 258, y2: 638}, style: {stroke: '#0a14d2', lineWidth: 4}, z: 50},
    txt(267, 639, 'Run de contrôle'),
    {type: 'line', shape: {x1: 227, y1: 648, x2: 258, y2: 648}, style: {stroke: '#000', lineWidth: 4}, z: 50},
    txt(267, 648, 'Run GFS'),
    txt(372, 654, '20 Perturbations'),
    {type: 'rect', shape: {x: 22.5, y: 669.5, width: 419, height: 40}, style: {fill: null, stroke: '#000', lineWidth: 1}, z: 50},
    txt(32, 681, 'Diagramme des ensembles GEFS sur 384h : 52N 4.3E', 'bold 11.5px ' + monoFont),
    txt(32, 694, 'Température 2m (°C) , précipitations (mm)'),
    txt(452, 675, 'Ensemble GEFS du 11/01/2013 - 18h', '10.5px ' + monoFont),
    txt(452, 693, 'Copyright 2013 Meteociel.fr', 'bold 11.5px ' + monoFont)
];
pertColors.forEach(function (c, k) {
    var x0 = 473 + k * 10.95;
    graphics.push({type: 'rect', shape: {x: x0, y: 652, width: 10, height: 6}, style: {fill: c}, z: 50});
    graphics.push(txt(x0 + 5, 645, (k < 9 ? '0' : '') + (k + 1), 'bold 7px ' + monoFont, {align: 'center'}));
});

var axisNumLabel = {fontFamily: '"DejaVu Sans", sans-serif', fontSize: 10, color: '#000'};

var chart = echarts.init(document.getElementById('main'));
chart.setOption({
    animation: false,
    backgroundColor: '#fff',
    grid: [
        {left: 52, top: 2, width: 640, height: 600, outerBoundsMode: 'none', containLabel: false},
        {left: 52, top: 563, width: 640, height: 36, outerBoundsMode: 'none', containLabel: false}
    ],
    xAxis: [{
        type: 'category', gridIndex: 0, data: steps, boundaryGap: false,
        axisLine: {show: true, onZero: false, lineStyle: {color: '#000', width: 1}},
        axisTick: {show: false, interval: isMidnight},
        axisLabel: {
            interval: isMidnight, rotate: 90, margin: 3, verticalAlign: 'top', padding: [3, 0, 0, 0],
            fontFamily: monoFont, fontSize: 10, color: '#000',
            formatter: function (v) { return v.slice(0, 5); }
        },
        splitLine: {show: true, interval: isMidnight, lineStyle: {color: '#c4c4c4', width: 1}}
    }, {
        type: 'category', gridIndex: 1, data: steps, boundaryGap: false, show: false
    }],
    yAxis: [{
        type: 'value', gridIndex: 0, position: 'left', min: -43, max: 43,
        axisLine: {show: true, lineStyle: {color: '#000', width: 1}},
        axisTick: {show: false, customValues: tempTicks},
        axisLabel: Object.assign({customValues: tempTicks, margin: 22, align: 'center'}, axisNumLabel),
        splitLine: {show: true, lineStyle: {color: '#c4c4c4', width: 1}}
    }, {
        type: 'value', gridIndex: 0, position: 'right', min: -8, max: 78,
        axisLine: {show: true, lineStyle: {color: '#000', width: 1}},
        axisTick: {show: false, customValues: rightTicks},
        axisLabel: Object.assign({customValues: rightTicks, margin: 20}, axisNumLabel),
        splitLine: {show: false}
    }, {
        type: 'value', gridIndex: 1, min: 0, max: 1, show: false
    }],
    graphic: graphics,
    series: series
});
</script>
</body>
</html>
